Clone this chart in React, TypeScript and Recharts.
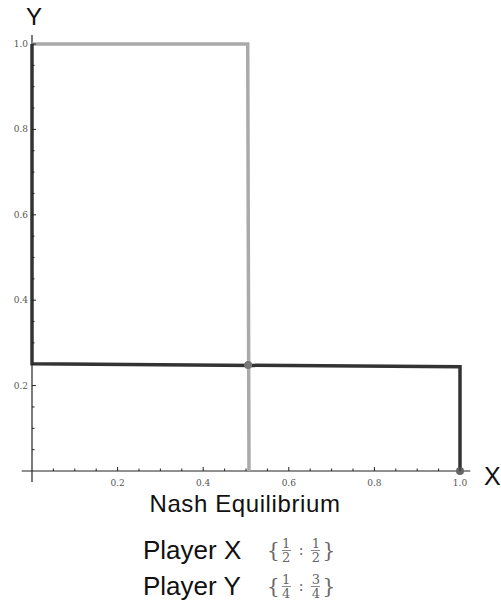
import { LineChart, Line, XAxis, YAxis, ReferenceDot, ReferenceLine } from "recharts";

// best responses
const greyX = [0, 0.504, 0.507];
const greyY = [1, 1, 0];
const darkX = [0, 0, 1, 1];
const darkY = [1, 0.251, 0.244, 0];
const tickValues = [
  0.05, 0.1, 0.15, 0.2, 0.25, 0.3, 0.35, 0.4, 0.45, 0.5, 0.55, 0.6, 0.65, 0.7,
  0.75, 0.8, 0.85, 0.9, 0.95, 1.0,
];
const labelledTicks = [0.2, 0.4, 0.6, 0.8, 1.0];
const equilibrium = { x: 0.505, y: 0.248 };
const players = [
  { name: "Player X", a: ["1", "2"], b: ["1", "2"] },
  { name: "Player Y", a: ["1", "4"], b: ["3", "4"] },
];

const greyData = greyX.map((x, i) => ({ x, y: greyY[i] }));
const darkData = darkX.map((x, i) => ({ x, y: darkY[i] }));

const isMajor = (v: number) => labelledTicks.some((t) => Math.abs(t - v) < 1e-6);

const XTick = (props: any) => {
  const { x, y, payload } = props;
  const major = isMajor(payload.value);
  return (
    <g>
      <line x1={x} x2={x} y1={y} y2={y - (major ? 4 : 2.5)} stroke="#222" strokeWidth={1} />
      {major && (
        <text x={x} y={y + 15} textAnchor="middle" fontSize={9} fill="#555" fontFamily="DejaVu Serif, serif">
          {payload.value.toFixed(1)}
        </text>
      )}
    </g>
  );
};

const YTick = (props: any) => {
  const { x, y, payload } = props;
  const major = isMajor(payload.value);
  return (
    <g>
      <line x1={x} x2={x + (major ? 4 : 2.5)} y1={y} y2={y} stroke="#222" strokeWidth={1} />
      {major && (
        <text x={x - 4} y={y + 3} textAnchor="end" fontSize={9} fill="#555" fontFamily="DejaVu Serif, serif">
          {payload.value.toFixed(1)}
        </text>
      )}
    </g>
  );
};

const Frac = ({ n, d }: { n: string; d: string }) => (
  <span style={{ display: "inline-flex", flexDirection: "column", alignItems: "center", fontSize: 13, lineHeight: "11px", margin: "0 2px" }}>
    <span>{n}</span>
    <span style={{ borderTop: "1px solid #888", width: 9, margin: "1px 0" }} />
    <span>{d}</span>
  </span>
);

export default function App() {
  return (
    <div style={{ position: "absolute", left: 0, top: 0, width: 501, height: 608, background: "#fff", fontFamily: "Liberation Sans, Arial, sans-serif", color: "#111" }}>
      <LineChart width={501} height={608} margin={{ top: 44, left: 2, right: 41, bottom: 107 }}>
        <XAxis
          type="number"
          dataKey="x"
          domain={[0, 1]}
          ticks={tickValues}
          height={30}
          tickSize={0}
          tickMargin={0}
          tick={<XTick />}
          interval={0}
          axisLine={false}
        />
        <YAxis
          type="number"
          dataKey="y"
          domain={[0, 1]}
          ticks={tickValues}
          width={30}
          tickSize={0}
          tickMargin={0}
          tick={<YTick />}
          interval={0}
          axisLine={false}
        />
        {/* axes crossing at origin, overhanging a little */}
        <ReferenceLine segment={[{ x: -0.024, y: 0 }, { x: 1.024, y: 0 }]} stroke="#222" strokeWidth={1.2} ifOverflow="visible" />
        <ReferenceLine segment={[{ x: 0, y: -0.026 }, { x: 0, y: 1.021 }]} stroke="#222" strokeWidth={1.2} ifOverflow="visible" />
        <Line data={greyData} dataKey="y" stroke="#aaaaaa" strokeWidth={3.5} dot={false} isAnimationActive={false} />
        <Line data={darkData} dataKey="y" stroke="#333333" strokeWidth={3.5} dot={false} isAnimationActive={false} />
        <ReferenceDot x={equilibrium.x} y={equilibrium.y} r={4} fill="#777" stroke="none" ifOverflow="visible" />
        <ReferenceDot x={1} y={0} r={4} fill="#666" stroke="none" ifOverflow="visible" />
      </LineChart>
      <div style={{ position: "absolute", left: 26, top: 3, fontSize: 24, lineHeight: "normal" }}>Y</div>
      <div style={{ position: "absolute", left: 484, top: 462, fontSize: 25, lineHeight: "normal" }}>X</div>
      <div style={{ position: "absolute", left: 0, width: 490, top: 490, textAlign: "center", fontSize: 24, letterSpacing: 0.6, lineHeight: "normal" }}>
        Nash Equilibrium
      </div>
      {players.map((p, i) => (
        <div key={p.name} style={{ position: "absolute", left: 143, top: 535 + i * 36, height: 30, fontSize: 26, display: "flex", alignItems: "center" }}>
          <span style={{ width: 124 }}>{p.name}</span>
          <span style={{ fontFamily: "DejaVu Serif, serif", color: "#666", fontSize: 20, display: "inline-flex", alignItems: "center" }}>
            {"{"}
            <Frac n={p.a[0]} d={p.a[1]} />
            <span style={{ margin: "0 6px", fontSize: 14 }}>:</span>
            <Frac n={p.b[0]} d={p.b[1]} />
            {"}"}
          </span>
        </div>
      ))}
    </div>
  );
}
